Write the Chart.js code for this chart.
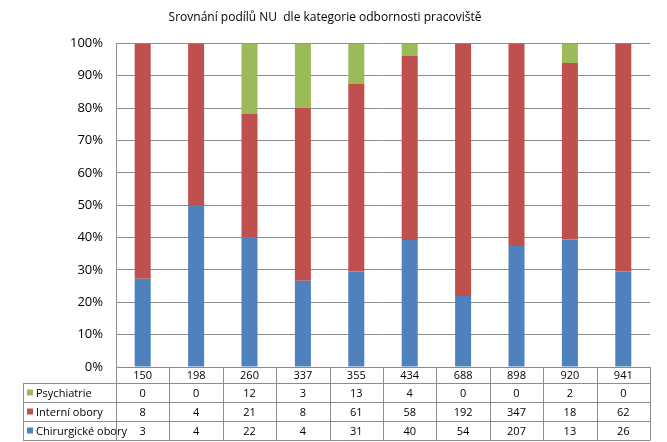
<!DOCTYPE html>
<html>
<head>
<meta charset="utf-8">
<script src="https://cdn.jsdelivr.net/npm/chart.js@4"></script>
<style>
  body { margin: 0; background: #fff; }
  #wrap { width: 667px; height: 442px; position: relative; }
</style>
</head>
<body>
<div id="wrap"><canvas id="chart"></canvas></div>
<script>
var categories = ['150', '198', '260', '337', '355', '434', '688', '898', '920', '941'];
var psychiatrie = [0, 0, 12, 3, 13, 4, 0, 0, 2, 0];
var interni = [8, 4, 21, 8, 61, 58, 192, 347, 18, 62];
var chirurgicke = [3, 4, 22, 4, 31, 40, 54, 207, 13, 26];

var titleText = 'Srovnání podílů NU  dle kategorie odbornosti pracoviště';
var FONT = '"Open Sans", "Noto Sans", sans-serif';

var totals = categories.map(function(c, i) {
    return psychiatrie[i] + interni[i] + chirurgicke[i];
});
function pct(arr) {
    return arr.map(function(v, i) { return v / totals[i] * 100; });
}

// table rows in drawing order (top to bottom)
var tableRows = [
    { label: 'Psychiatrie', color: '#9BBB59', values: psychiatrie },
    { label: 'Interní obory', color: '#C0504D', values: interni },
    { label: 'Chirurgické obory', color: '#4F81BD', values: chirurgicke }
];

const dataTable = {
    id: 'dataTable',
    afterDraw(chart) {
        var ctx = chart.ctx;
        var x = chart.scales.x;
        var area = chart.chartArea;
        var n = categories.length;
        var step = (area.right - area.left) / n;
        var top = area.bottom;
        var headH = 16, rowH = 19;
        var tableLeft = 23;
        var bottom = top + headH + rowH * tableRows.length;

        ctx.save();
        ctx.strokeStyle = '#8c8c8c';
        ctx.lineWidth = 1;
        ctx.beginPath();
        // vertical lines between categories
        for (var i = 0; i <= n; i++) {
            var vx = Math.round(area.left + step * i) + 0.5;
            ctx.moveTo(vx, top);
            ctx.lineTo(vx, bottom);
        }
        // horizontal lines
        for (var r = 0; r <= tableRows.length; r++) {
            var hy = Math.round(top + headH + rowH * r) + 0.5;
            ctx.moveTo(tableLeft, hy);
            ctx.lineTo(area.right + 0.5, hy);
        }
        ctx.moveTo(tableLeft + 0.5, top + headH);
        ctx.lineTo(tableLeft + 0.5, bottom);
        ctx.stroke();

        ctx.fillStyle = '#000';
        ctx.font = '11px ' + FONT;
        ctx.textAlign = 'center';
        ctx.textBaseline = 'middle';
        for (var i = 0; i < n; i++) {
            var cx = x.getPixelForValue(i);
            ctx.fillText(categories[i], cx, top + headH / 2 + 1);
            tableRows.forEach(function(row, r) {
                ctx.fillText(String(row.values[i]), cx, top + headH + rowH * r + rowH / 2 + 1);
            });
        }
        ctx.textAlign = 'left';
        tableRows.forEach(function(row, r) {
            var cy = top + headH + rowH * r + rowH / 2;
            ctx.fillStyle = row.color;
            ctx.fillRect(tableLeft + 4, cy - 3, 6, 6);
            ctx.fillStyle = '#000';
            ctx.fillText(row.label, tableLeft + 13, cy + 1);
        });
        ctx.restore();
    }
};

new Chart(document.getElementById('chart'), {
    type: 'bar',
    data: {
        labels: categories,
        datasets: [{
            label: 'Chirurgické obory',
            data: pct(chirurgicke),
            backgroundColor: '#4F81BD'
        },
        {
            label: 'Interní obory',
            data: pct(interni),
            backgroundColor: '#C0504D'
        },
        {
            label: 'Psychiatrie',
            data: pct(psychiatrie),
            backgroundColor: '#9BBB59'
        }]
    },
    options: {
        responsive: true,
        maintainAspectRatio: false,
        animation: false,
        datasets: {
            bar: {
                barPercentage: 0.3,
                categoryPercentage: 1.0
            }
        },
        layout: {
            padding: { left: 0, right: 17, top: 0, bottom: 75 }
        },
        plugins: {
            legend: { display: false },
            tooltip: { enabled: false },
            title: {
                display: true,
                text: titleText,
                color: '#000',
                font: { family: FONT, size: 12, weight: 'normal' },
                padding: { top: 10, bottom: 19 }
            }
        },
        scales: {
            x: {
                stacked: true,
                display: false
            },
            y: {
                stacked: true,
                min: 0,
                max: 100,
                afterFit: function(scale) { scale.width = 116; },
                border: { color: '#8c8c8c' },
                grid: {
                    color: '#8c8c8c',
                    drawTicks: false
                },
                ticks: {
                    stepSize: 10,
                    padding: 13,
                    color: '#000',
                    font: { family: FONT, size: 13 },
                    callback: function(v) { return v + '%'; }
                }
            }
        }
    },
    plugins: [dataTable]
});
</script>
</body>
</html>
